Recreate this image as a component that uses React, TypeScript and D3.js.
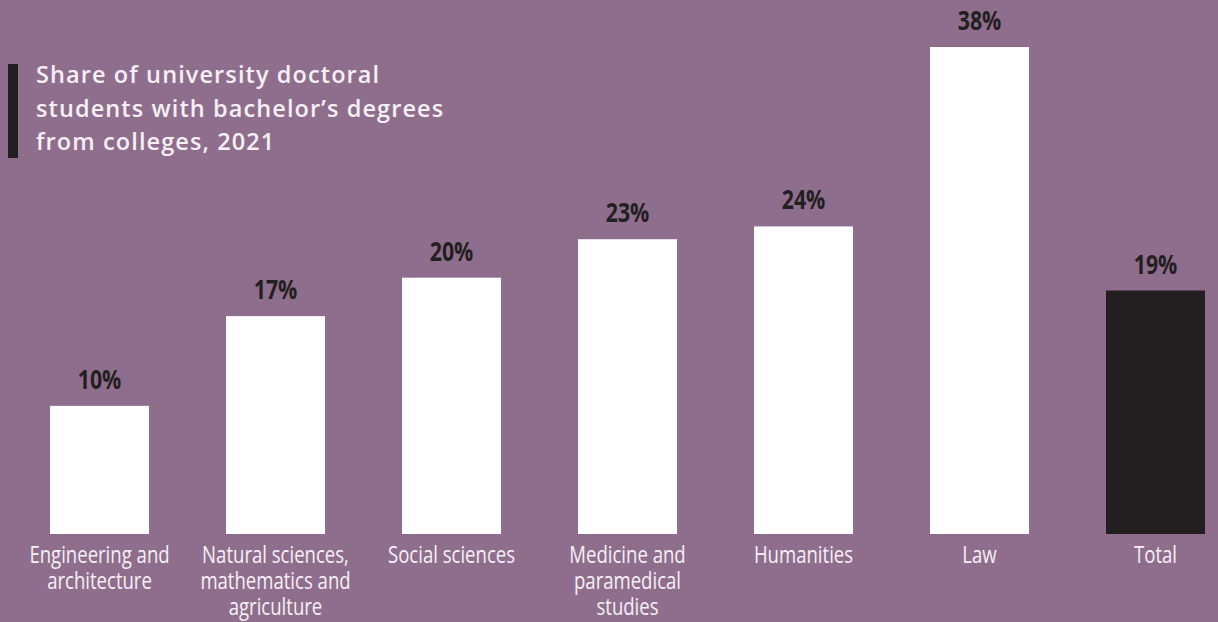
import React from "react";
import * as d3 from "d3";

const categories: string[][] = [
  ["Engineering and", "architecture"],
  ["Natural sciences,", "mathematics and", "agriculture"],
  ["Social sciences"],
  ["Medicine and", "paramedical", "studies"],
  ["Humanities"],
  ["Law"],
  ["Total"],
];
const values: number[] = [10, 17, 20, 23, 24, 38, 19];
const highlight: boolean[] = [false, false, false, false, false, false, true];
const titleLines: string[] = [
  "Share of university doctoral",
  "students with bachelor\u2019s degrees",
  "from colleges, 2021",
];

const W = 1218;
const H = 622;
const BG = "#8f6e8d";
const DARK = "#231f20";
const LIGHT = "#f6f0f5";
const FONT = "'Open Sans', sans-serif";
const SQUEEZE = 0.79;

export default function App() {
  const idx = values.map((_, i) => String(i));
  const x = d3.scaleBand<string>().domain(idx).range([50, 1205]).paddingInner(0.4375).paddingOuter(0);
  const y = d3.scaleLinear().domain([0, 38]).range([534, 47]);

  return (
    <svg
      width={W}
      height={H}
      style={{ position: "absolute", left: 0, top: 0, display: "block", background: BG }}
    >
      <rect x={0} y={0} width={W} height={H} fill={BG} />
      <rect x={8} y={64} width={10} height={94} fill={DARK} />
      <text fontFamily={FONT} fontWeight={600} fontSize={23.5} letterSpacing={1.1} fill={LIGHT}>
        {titleLines.map((t, i) => (
          <tspan key={i} x={36} y={83 + i * 33.5}>
            {t}
          </tspan>
        ))}
      </text>
      {values.map((v, i) => {
        const bx = x(String(i))!;
        const bw = x.bandwidth();
        const cx = bx + bw / 2;
        return (
          <g key={i}>
            <rect x={bx} y={y(v)} width={bw} height={y(0) - y(v)} fill={highlight[i] ? DARK : "#ffffff"} />
            <g transform={`translate(${cx},${y(v) - 17}) scale(${SQUEEZE},1)`}>
              <text x={0} y={0} textAnchor="middle" fontFamily={FONT} fontWeight={700} fontSize={27} fill={DARK}>
                {`${v}%`}
              </text>
            </g>
            <g transform={`translate(${cx},563) scale(${SQUEEZE},1)`}>
              <text textAnchor="middle" fontFamily={FONT} fontWeight={400} fontSize={23.5} fill={LIGHT}>
                {categories[i].map((l, j) => (
                  <tspan key={j} x={0} y={j * 26}>
                    {l}
                  </tspan>
                ))}
              </text>
            </g>
          </g>
        );
      })}
    </svg>
  );
}
